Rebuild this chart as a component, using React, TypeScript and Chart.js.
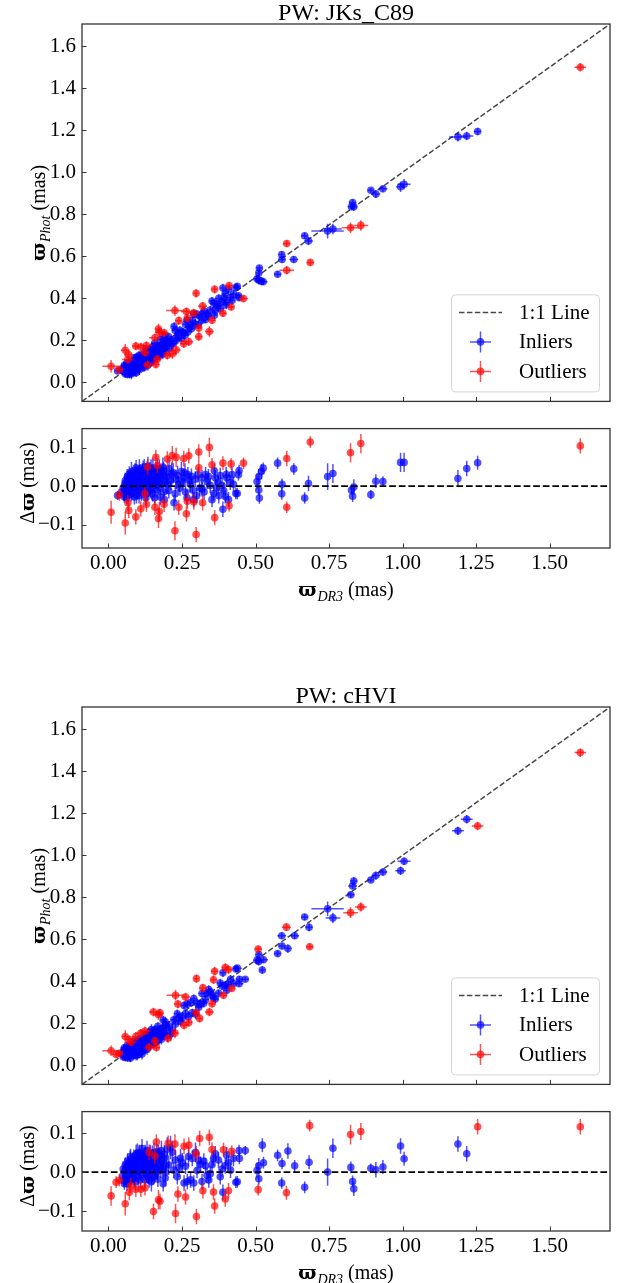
import React, { useEffect, useRef } from "react";
import { Chart, registerables } from "chart.js";

Chart.register(...registerables);

type Row = [number, number, number, number];

// ---------- text ----------
const panelTitles = ["PW: JKs_C89", "PW: cHVI"];
const legendLabels = ["1:1 Line", "Inliers", "Outliers"];

// ---------- ticks / limits ----------
const mainTicks = [0.0, 0.2, 0.4, 0.6, 0.8, 1.0, 1.2, 1.4, 1.6];
const xTicks = [0.0, 0.25, 0.5, 0.75, 1.0, 1.25, 1.5];
const resTicks = [-0.1, 0.0, 0.1];
const mainLimits = [-0.09, 1.705];
const jksResLimits = [-0.161, 0.15];
const chviResLimits = [-0.151, 0.155];

// ---------- data: [parallax DR3, residual (DR3 - Phot), xErr, yErr] ----------
const jksInliers: Row[] = [
  [1.255, 0.061, 0.012, 0.018], [1.218, 0.046, 0.022, 0.02], [1.188, 0.02, 0.03, 0.022],
  [1.005, 0.062, 0.022, 0.025], [0.993, 0.062, 0.015, 0.025], [0.933, 0.012, 0.015, 0.014],
  [0.909, 0.013, 0.015, 0.018], [0.892, -0.022, 0.01, 0.012], [0.834, -0.002, 0.012, 0.02],
  [0.826, -0.01, 0.012, 0.012], [0.83, -0.026, 0.012, 0.015], [0.763, 0.033, 0.03, 0.025],
  [0.745, 0.025, 0.055, 0.035], [0.68, 0.007, 0.015, 0.02], [0.667, -0.031, 0.012, 0.015],
  [0.63, 0.045, 0.015, 0.015], [0.59, 0.005, 0.012, 0.015], [0.589, -0.02, 0.01, 0.015],
  [0.575, 0.06, 0.012, 0.015], [0.526, 0.047, 0.015, 0.015], [0.52, 0.038, 0.012, 0.02],
  [0.511, 0.025, 0.012, 0.02], [0.505, 0.012, 0.012, 0.02], [0.511, -0.01, 0.01, 0.015],
  [0.513, -0.031, 0.012, 0.015],
  [0.444, 0.041, 0.015, 0.015], [0.442, 0.03, 0.012, 0.015], [0.438, -0.019, 0.01, 0.015],
  [0.433, -0.019, 0.01, 0.015], [0.42, 0.03, 0.01, 0.02], [0.414, 0.01, 0.02, 0.02],
  [0.408, -0.035, 0.012, 0.02], [0.402, 0.022, 0.015, 0.02], [0.4, 0.03, 0.012, 0.02],
  [0.397, -0.027, 0.01, 0.018], [0.389, -0.06, 0.01, 0.02], [0.386, 0.002, 0.015, 0.02],
  [0.375, -0.025, 0.012, 0.02], [0.372, 0.01, 0.012, 0.02], [0.363, 0.022, 0.012, 0.02],
  [0.36, 0.04, 0.01, 0.02], [0.358, -0.019, 0.01, 0.02], [0.352, -0.035, 0.01, 0.02],
  [0.346, 0.002, 0.015, 0.02], [0.335, 0.012, 0.01, 0.02], [0.33, 0.03, 0.012, 0.02],
  [0.318, 0.022, 0.01, 0.02], [0.318, -0.007, 0.015, 0.02], [0.31, -0.005, 0.012, 0.02],
  [0.305, 0.03, 0.012, 0.02], [0.29, -0.035, 0.01, 0.02], [0.282, 0.026, 0.015, 0.02],
  [0.279, 0.005, 0.012, 0.02], [0.27, 0.03, 0.01, 0.02], [0.262, -0.015, 0.01, 0.02],
  [0.256, 0.022, 0.015, 0.025], [0.248, 0.038, 0.012, 0.025], [0.239, 0.005, 0.015, 0.02],
  [0.23, 0.018, 0.02, 0.025], [0.223, -0.043, 0.01, 0.02], [0.215, 0.032, 0.015, 0.03],
  [0.206, 0.046, 0.015, 0.03], [0.2, 0.005, 0.012, 0.025],
  [0.205, -0.012, 0.012, 0.02], [0.212, 0.015, 0.01, 0.025], [0.22, 0.035, 0.015, 0.025],
  [0.227, -0.02, 0.012, 0.02], [0.235, 0.028, 0.01, 0.025], [0.243, -0.005, 0.012, 0.02],
  [0.252, 0.012, 0.015, 0.02], [0.26, 0.035, 0.01, 0.025], [0.267, -0.03, 0.012, 0.02],
  [0.275, 0.015, 0.01, 0.02], [0.286, -0.01, 0.012, 0.02], [0.295, 0.018, 0.015, 0.02],
  [0.3, -0.025, 0.01, 0.02], [0.325, -0.015, 0.012, 0.02], [0.34, 0.025, 0.01, 0.02],
  [0.368, -0.005, 0.012, 0.02], [0.38, 0.028, 0.015, 0.02], [0.392, -0.012, 0.01, 0.02],
  [0.425, 0.005, 0.012, 0.02],
  [0.031, -0.024, 0.01, 0.012], [0.045, -0.015, 0.012, 0.015], [0.05, -0.005, 0.01, 0.015],
  [0.052, -0.02, 0.012, 0.018], [0.055, 0.005, 0.01, 0.02], [0.058, -0.01, 0.015, 0.015],
  [0.06, 0.01, 0.01, 0.02], [0.062, -0.03, 0.012, 0.018], [0.065, 0.0, 0.01, 0.02],
  [0.067, 0.018, 0.012, 0.02], [0.07, -0.012, 0.015, 0.02], [0.072, 0.005, 0.01, 0.025],
  [0.075, 0.025, 0.012, 0.02], [0.077, -0.02, 0.01, 0.02], [0.08, 0.012, 0.015, 0.025],
  [0.082, 0.03, 0.01, 0.02], [0.085, -0.005, 0.012, 0.02], [0.087, 0.02, 0.01, 0.025],
  [0.09, 0.04, 0.015, 0.02], [0.092, 0.005, 0.01, 0.02], [0.095, -0.025, 0.012, 0.02],
  [0.097, 0.015, 0.01, 0.025], [0.1, 0.03, 0.015, 0.02], [0.102, -0.01, 0.012, 0.02],
  [0.105, 0.045, 0.01, 0.025], [0.107, 0.008, 0.012, 0.02], [0.11, 0.022, 0.015, 0.025],
  [0.112, -0.018, 0.01, 0.02], [0.115, 0.035, 0.012, 0.025], [0.117, 0.0, 0.01, 0.02],
  [0.12, 0.015, 0.015, 0.025], [0.122, 0.05, 0.012, 0.02], [0.125, 0.028, 0.01, 0.025],
  [0.127, -0.03, 0.012, 0.02], [0.13, 0.01, 0.015, 0.02], [0.132, 0.04, 0.01, 0.025],
  [0.135, 0.02, 0.012, 0.02], [0.137, -0.008, 0.01, 0.02], [0.14, 0.03, 0.015, 0.025],
  [0.142, 0.005, 0.012, 0.02], [0.145, 0.045, 0.01, 0.025], [0.148, 0.015, 0.012, 0.02],
  [0.15, -0.02, 0.015, 0.02], [0.152, 0.025, 0.01, 0.025], [0.155, 0.035, 0.012, 0.02],
  [0.158, 0.002, 0.01, 0.02], [0.16, 0.018, 0.015, 0.025], [0.163, 0.04, 0.012, 0.02],
  [0.165, -0.01, 0.01, 0.02], [0.168, 0.028, 0.012, 0.025], [0.17, 0.01, 0.015, 0.02],
  [0.173, 0.045, 0.01, 0.025], [0.176, -0.028, 0.012, 0.02], [0.18, 0.02, 0.015, 0.025],
  [0.185, 0.05, 0.012, 0.025], [0.188, -0.015, 0.01, 0.02], [0.192, 0.03, 0.012, 0.025],
  [0.195, 0.012, 0.015, 0.02],
  [0.054, -0.028, 0.01, 0.015], [0.057, 0.015, 0.012, 0.02], [0.061, -0.018, 0.01, 0.018],
  [0.064, 0.025, 0.012, 0.02], [0.068, -0.022, 0.01, 0.02], [0.071, 0.032, 0.012, 0.02],
  [0.074, -0.005, 0.015, 0.02], [0.078, 0.038, 0.01, 0.025], [0.081, -0.015, 0.012, 0.02],
  [0.084, 0.008, 0.01, 0.02], [0.088, -0.028, 0.012, 0.02], [0.091, 0.022, 0.015, 0.025],
  [0.094, 0.048, 0.01, 0.02], [0.098, -0.005, 0.012, 0.02], [0.101, 0.012, 0.01, 0.025],
  [0.104, -0.025, 0.015, 0.02], [0.108, 0.038, 0.012, 0.02], [0.111, 0.002, 0.01, 0.025],
  [0.114, 0.018, 0.012, 0.02], [0.118, 0.042, 0.015, 0.025], [0.121, -0.01, 0.01, 0.02],
  [0.124, 0.005, 0.012, 0.02], [0.128, 0.035, 0.01, 0.025], [0.131, -0.018, 0.012, 0.02],
  [0.134, 0.052, 0.015, 0.025], [0.138, 0.012, 0.01, 0.02], [0.141, 0.038, 0.012, 0.025],
  [0.144, -0.012, 0.01, 0.02], [0.147, 0.022, 0.015, 0.02], [0.151, 0.048, 0.012, 0.025],
  [0.154, 0.008, 0.01, 0.02], [0.157, -0.03, 0.012, 0.02], [0.161, 0.03, 0.015, 0.025],
  [0.164, 0.012, 0.01, 0.02], [0.167, 0.042, 0.012, 0.025], [0.171, -0.002, 0.01, 0.02],
  [0.175, 0.025, 0.015, 0.025], [0.178, 0.035, 0.012, 0.02], [0.183, 0.005, 0.01, 0.02],
  [0.187, 0.038, 0.012, 0.025], [0.19, -0.035, 0.01, 0.02], [0.198, 0.025, 0.015, 0.025],
];

const jksOutliers: Row[] = [
  [1.604, 0.105, 0.02, 0.02], [0.858, 0.111, 0.025, 0.025], [0.823, 0.087, 0.03, 0.025],
  [0.686, 0.115, 0.012, 0.015], [0.606, 0.072, 0.025, 0.02], [0.606, -0.055, 0.012, 0.015],
  [0.459, 0.06, 0.015, 0.015], [0.417, 0.058, 0.01, 0.015], [0.41, -0.051, 0.012, 0.015],
  [0.389, 0.06, 0.012, 0.018], [0.361, -0.082, 0.01, 0.02], [0.352, 0.056, 0.012, 0.018],
  [0.343, 0.101, 0.015, 0.025], [0.32, -0.043, 0.015, 0.02], [0.307, 0.089, 0.012, 0.02],
  [0.307, 0.048, 0.01, 0.02], [0.298, -0.126, 0.008, 0.02], [0.29, -0.041, 0.02, 0.02],
  [0.273, 0.079, 0.015, 0.02], [0.268, -0.039, 0.01, 0.02], [0.265, -0.072, 0.02, 0.02],
  [0.256, 0.072, 0.012, 0.02], [0.239, -0.055, 0.012, 0.02], [0.23, 0.075, 0.015, 0.025],
  [0.226, -0.116, 0.03, 0.025], [0.217, 0.08, 0.012, 0.025], [0.2, 0.071, 0.012, 0.02],
  [0.189, -0.047, 0.015, 0.02], [0.173, -0.066, 0.015, 0.025], [0.17, -0.084, 0.012, 0.025],
  [0.166, 0.054, 0.015, 0.02], [0.161, 0.075, 0.012, 0.02], [0.158, -0.055, 0.02, 0.02],
  [0.133, 0.05, 0.015, 0.02], [0.129, -0.047, 0.02, 0.02], [0.124, -0.019, 0.015, 0.02],
  [0.11, -0.059, 0.02, 0.02], [0.093, -0.08, 0.012, 0.02], [0.069, -0.063, 0.015, 0.02],
  [0.066, -0.043, 0.02, 0.02], [0.057, -0.096, 0.015, 0.03], [0.037, -0.023, 0.012, 0.015],
  [0.009, -0.068, 0.03, 0.03],
];

const chviInliers: Row[] = [
  [1.218, 0.047, 0.02, 0.02], [1.188, 0.072, 0.02, 0.02], [1.005, 0.034, 0.022, 0.018],
  [0.993, 0.067, 0.018, 0.02], [0.933, 0.013, 0.015, 0.018], [0.909, 0.006, 0.015, 0.02],
  [0.892, 0.01, 0.01, 0.012], [0.834, -0.043, 0.012, 0.018], [0.83, -0.024, 0.015, 0.015],
  [0.824, 0.012, 0.012, 0.015], [0.763, 0.061, 0.025, 0.025], [0.745, 0.0, 0.055, 0.035],
  [0.682, 0.025, 0.012, 0.018], [0.667, -0.039, 0.012, 0.015], [0.633, 0.016, 0.015, 0.015],
  [0.61, 0.054, 0.012, 0.02], [0.59, 0.022, 0.012, 0.015], [0.589, -0.028, 0.015, 0.015],
  [0.575, 0.043, 0.012, 0.015], [0.527, 0.024, 0.015, 0.015], [0.523, 0.069, 0.01, 0.018],
  [0.511, 0.016, 0.012, 0.02], [0.505, 0.004, 0.012, 0.02], [0.511, -0.017, 0.01, 0.015],
  [0.465, 0.055, 0.012, 0.012], [0.444, 0.055, 0.015, 0.015], [0.445, 0.035, 0.012, 0.015],
  [0.438, -0.025, 0.015, 0.015], [0.433, -0.026, 0.01, 0.015],
  [0.408, 0.024, 0.012, 0.02], [0.402, 0.044, 0.012, 0.02], [0.397, 0.016, 0.015, 0.02],
  [0.389, -0.052, 0.01, 0.02], [0.386, 0.008, 0.012, 0.02], [0.374, 0.031, 0.015, 0.02],
  [0.363, 0.047, 0.012, 0.02], [0.352, 0.019, 0.01, 0.02], [0.346, -0.004, 0.015, 0.02],
  [0.341, -0.02, 0.01, 0.02], [0.33, 0.016, 0.012, 0.02], [0.324, 0.028, 0.01, 0.02],
  [0.318, -0.024, 0.012, 0.02], [0.313, 0.02, 0.015, 0.02], [0.301, 0.004, 0.01, 0.02],
  [0.296, 0.051, 0.012, 0.025], [0.29, -0.028, 0.01, 0.02], [0.285, 0.035, 0.015, 0.02],
  [0.279, -0.02, 0.012, 0.02], [0.268, -0.024, 0.01, 0.02], [0.257, -0.028, 0.012, 0.02],
  [0.251, 0.024, 0.015, 0.025], [0.245, 0.035, 0.012, 0.025], [0.234, -0.012, 0.01, 0.02],
  [0.228, 0.031, 0.015, 0.025], [0.217, 0.051, 0.012, 0.03], [0.211, 0.063, 0.01, 0.03],
  [0.2, 0.059, 0.012, 0.03], [0.194, 0.0, 0.015, 0.02],
  [0.205, 0.018, 0.012, 0.025], [0.222, 0.005, 0.01, 0.02], [0.24, 0.012, 0.015, 0.025],
  [0.262, 0.015, 0.012, 0.02], [0.272, 0.04, 0.01, 0.025], [0.307, 0.03, 0.012, 0.02],
  [0.335, -0.008, 0.015, 0.02], [0.357, 0.035, 0.01, 0.02], [0.38, -0.012, 0.012, 0.02],
  [0.415, 0.005, 0.012, 0.02], [0.425, 0.035, 0.01, 0.02],
  [0.048, -0.01, 0.01, 0.015], [0.052, -0.022, 0.012, 0.015], [0.055, 0.002, 0.01, 0.02],
  [0.058, -0.015, 0.012, 0.018], [0.06, 0.012, 0.01, 0.02], [0.063, -0.03, 0.012, 0.018],
  [0.066, 0.005, 0.015, 0.02], [0.068, 0.02, 0.01, 0.02], [0.071, -0.008, 0.012, 0.02],
  [0.074, 0.03, 0.01, 0.025], [0.076, -0.02, 0.015, 0.02], [0.079, 0.01, 0.01, 0.02],
  [0.081, 0.025, 0.012, 0.025], [0.084, -0.003, 0.01, 0.02], [0.086, 0.038, 0.015, 0.02],
  [0.089, 0.015, 0.01, 0.025], [0.091, -0.025, 0.012, 0.02], [0.094, 0.045, 0.01, 0.025],
  [0.096, 0.005, 0.015, 0.02], [0.099, 0.028, 0.012, 0.02], [0.101, -0.012, 0.01, 0.025],
  [0.104, 0.05, 0.012, 0.02], [0.106, 0.018, 0.015, 0.025], [0.109, 0.035, 0.01, 0.02],
  [0.111, -0.005, 0.012, 0.02], [0.114, 0.06, 0.01, 0.025], [0.116, 0.022, 0.015, 0.02],
  [0.119, 0.008, 0.012, 0.025], [0.121, 0.042, 0.01, 0.02], [0.124, -0.02, 0.012, 0.02],
  [0.126, 0.03, 0.015, 0.025], [0.129, 0.012, 0.01, 0.02], [0.131, 0.055, 0.012, 0.025],
  [0.134, -0.01, 0.01, 0.02], [0.136, 0.025, 0.015, 0.02], [0.139, 0.04, 0.012, 0.025],
  [0.141, 0.002, 0.01, 0.02], [0.144, 0.032, 0.012, 0.02], [0.146, -0.025, 0.015, 0.025],
  [0.149, 0.048, 0.01, 0.02], [0.151, 0.015, 0.012, 0.02], [0.154, 0.028, 0.01, 0.025],
  [0.157, -0.008, 0.015, 0.02], [0.159, 0.038, 0.012, 0.02], [0.162, 0.01, 0.01, 0.025],
  [0.165, 0.052, 0.012, 0.02], [0.168, -0.018, 0.015, 0.02], [0.171, 0.022, 0.01, 0.025],
  [0.174, 0.042, 0.012, 0.02], [0.178, 0.005, 0.015, 0.02], [0.182, 0.03, 0.012, 0.025],
  [0.186, -0.03, 0.01, 0.02], [0.19, 0.045, 0.012, 0.025], [0.196, 0.018, 0.015, 0.02],
  [0.05, 0.008, 0.012, 0.02], [0.054, -0.03, 0.01, 0.015], [0.057, 0.018, 0.012, 0.02],
  [0.062, -0.005, 0.01, 0.02], [0.065, 0.028, 0.012, 0.02], [0.069, -0.02, 0.015, 0.02],
  [0.072, 0.012, 0.01, 0.025], [0.075, 0.04, 0.012, 0.02], [0.078, -0.012, 0.01, 0.02],
  [0.082, 0.005, 0.015, 0.025], [0.085, 0.022, 0.012, 0.02], [0.088, -0.018, 0.01, 0.02],
  [0.092, 0.032, 0.012, 0.025], [0.095, 0.012, 0.015, 0.02], [0.098, 0.048, 0.01, 0.025],
  [0.102, 0.002, 0.012, 0.02], [0.105, 0.03, 0.01, 0.025], [0.108, -0.02, 0.015, 0.02],
  [0.112, 0.045, 0.012, 0.025], [0.115, 0.01, 0.01, 0.02], [0.118, 0.03, 0.012, 0.02],
  [0.122, 0.02, 0.015, 0.025], [0.125, 0.05, 0.01, 0.02], [0.128, -0.005, 0.012, 0.02],
  [0.132, 0.035, 0.01, 0.025], [0.135, 0.008, 0.015, 0.02], [0.138, -0.02, 0.012, 0.02],
  [0.142, 0.045, 0.01, 0.025], [0.145, 0.018, 0.012, 0.02], [0.148, 0.032, 0.015, 0.025],
  [0.152, -0.012, 0.01, 0.02], [0.155, 0.05, 0.012, 0.025], [0.158, 0.022, 0.01, 0.02],
  [0.162, 0.035, 0.015, 0.025], [0.166, 0.0, 0.012, 0.02], [0.17, 0.045, 0.01, 0.025],
  [0.176, 0.015, 0.012, 0.02], [0.18, 0.055, 0.015, 0.025], [0.185, 0.01, 0.01, 0.02],
  [0.188, 0.035, 0.012, 0.025], [0.193, -0.015, 0.01, 0.02],
];

const chviOutliers: Row[] = [
  [1.604, 0.116, 0.02, 0.02], [1.255, 0.116, 0.02, 0.02], [0.858, 0.104, 0.02, 0.022],
  [0.823, 0.096, 0.025, 0.025], [0.684, 0.119, 0.012, 0.015], [0.605, -0.053, 0.015, 0.018],
  [0.509, -0.045, 0.012, 0.015], [0.419, 0.053, 0.012, 0.015], [0.408, -0.048, 0.012, 0.02],
  [0.397, -0.069, 0.012, 0.02], [0.391, 0.057, 0.012, 0.018], [0.361, -0.087, 0.012, 0.02],
  [0.357, -0.051, 0.01, 0.02], [0.352, 0.058, 0.012, 0.018], [0.343, 0.089, 0.015, 0.02],
  [0.321, -0.048, 0.012, 0.02], [0.31, 0.086, 0.012, 0.02], [0.299, -0.114, 0.008, 0.02],
  [0.298, 0.047, 0.012, 0.02], [0.273, 0.069, 0.012, 0.02], [0.262, -0.064, 0.015, 0.02],
  [0.257, 0.066, 0.012, 0.02], [0.236, -0.056, 0.012, 0.02], [0.228, -0.106, 0.03, 0.025],
  [0.226, 0.072, 0.012, 0.025], [0.203, 0.074, 0.012, 0.02], [0.17, -0.071, 0.015, 0.025],
  [0.175, -0.075, 0.012, 0.02], [0.163, 0.077, 0.012, 0.02], [0.158, 0.041, 0.012, 0.02],
  [0.153, -0.101, 0.015, 0.02], [0.138, 0.051, 0.015, 0.02], [0.124, -0.04, 0.02, 0.02],
  [0.11, -0.044, 0.02, 0.02], [0.093, -0.044, 0.012, 0.02], [0.076, -0.035, 0.02, 0.02],
  [0.071, -0.052, 0.015, 0.02], [0.057, -0.081, 0.012, 0.03], [0.037, -0.021, 0.012, 0.015],
  [0.026, -0.026, 0.015, 0.015], [0.009, -0.061, 0.03, 0.025],
];

// ---------- styles ----------
const SERIF = "'Liberation Serif', 'Times New Roman', 'DejaVu Serif', serif";
const BLUE = "rgba(0, 0, 255, 0.68)";
const RED = "rgba(255, 0, 0, 0.68)";
const FRAME = "#333333";
const TICK_SIZE = 21;
const MARKER_R = 3.8;

// ---------- plugins ----------
const errorBarPlugin = {
  id: "errbars",
  beforeDatasetDraw(chart: any, args: any) {
    const ds = chart.data.datasets[args.index];
    if (!ds.errY) return;
    const { ctx, chartArea: a } = chart;
    const xs = chart.scales.x;
    const ys = chart.scales.y;
    ctx.save();
    ctx.beginPath();
    ctx.rect(a.left, a.top, a.right - a.left, a.bottom - a.top);
    ctx.clip();
    ctx.strokeStyle = ds.errColor;
    ctx.lineWidth = 1.5;
    ds.data.forEach((p: any, i: number) => {
      const px = xs.getPixelForValue(p.x);
      const py = ys.getPixelForValue(p.y);
      ctx.beginPath();
      ctx.moveTo(px, ys.getPixelForValue(p.y - ds.errY[i]));
      ctx.lineTo(px, ys.getPixelForValue(p.y + ds.errY[i]));
      if (ds.errX) {
        ctx.moveTo(xs.getPixelForValue(p.x - ds.errX[i]), py);
        ctx.lineTo(xs.getPixelForValue(p.x + ds.errX[i]), py);
      }
      ctx.stroke();
    });
    ctx.restore();
  },
};

const framePlugin = {
  id: "frame",
  afterDatasetsDraw(chart: any, _args: any, opts: any) {
    const { ctx, chartArea: a } = chart;
    const xs = chart.scales.x;
    const ys = chart.scales.y;
    ctx.save();
    ctx.strokeStyle = FRAME;
    ctx.lineWidth = 1;
    ctx.beginPath();
    (opts.xt || []).forEach((v: number) => {
      const px = Math.round(xs.getPixelForValue(v)) + 0.5;
      ctx.moveTo(px, a.bottom);
      ctx.lineTo(px, a.bottom - 4.5);
    });
    (opts.yt || []).forEach((v: number) => {
      const py = Math.round(ys.getPixelForValue(v)) + 0.5;
      ctx.moveTo(a.left, py);
      ctx.lineTo(a.left + 4.5, py);
    });
    ctx.stroke();
    ctx.lineWidth = 1.3;
    ctx.strokeRect(a.left, a.top, a.right - a.left, a.bottom - a.top);
    ctx.restore();
  },
};

const boxLegendPlugin = {
  id: "boxLegend",
  afterDraw(chart: any, _args: any, opts: any) {
    if (!opts.show) return;
    const { ctx, chartArea: a } = chart;
    const w = 148;
    const h = 97;
    const x0 = a.right - 11 - w;
    const y0 = a.bottom - 10 - h;
    ctx.save();
    ctx.beginPath();
    ctx.roundRect(x0 + 0.5, y0 + 0.5, w, h, 4);
    ctx.fillStyle = "rgba(255,255,255,0.8)";
    ctx.fill();
    ctx.strokeStyle = "#d5d5d5";
    ctx.lineWidth = 1;
    ctx.stroke();
    const items = chart.data.datasets.filter((d: any) => d.legendKind);
    items.sort((p: any, q: any) => p.legendIndex - q.legendIndex);
    items.forEach((d: any, i: number) => {
      const cy = y0 + 18 + i * 29.5;
      const cx = x0 + 29.5;
      if (d.legendKind === "line") {
        ctx.strokeStyle = d.borderColor;
        ctx.lineWidth = d.borderWidth;
        ctx.setLineDash(d.borderDash);
        ctx.beginPath();
        ctx.moveTo(x0 + 8, cy);
        ctx.lineTo(x0 + 51, cy);
        ctx.stroke();
        ctx.setLineDash([]);
      } else {
        ctx.strokeStyle = d.errColor;
        ctx.lineWidth = 1.5;
        ctx.beginPath();
        ctx.moveTo(cx - 10.5, cy);
        ctx.lineTo(cx + 10.5, cy);
        ctx.moveTo(cx, cy - 10.5);
        ctx.lineTo(cx, cy + 10.5);
        ctx.stroke();
        ctx.fillStyle = d.errColor;
        ctx.beginPath();
        ctx.arc(cx, cy, MARKER_R, 0, Math.PI * 2);
        ctx.fill();
      }
      ctx.fillStyle = "#000";
      ctx.font = `21px ${SERIF}`;
      ctx.textAlign = "left";
      ctx.textBaseline = "middle";
      ctx.fillText(d.label, x0 + 68, cy + 1);
    });
    ctx.restore();
  },
};

// ---------- builders ----------
function pointSet(rows: Row[], label: string, color: string, residual: boolean, order: number, legendIndex: number) {
  return {
    type: "scatter",
    label,
    order,
    data: rows.map((r) => ({ x: r[0], y: residual ? r[1] : r[0] - r[1] })),
    backgroundColor: color,
    borderWidth: 0,
    pointRadius: MARKER_R,
    pointHoverRadius: MARKER_R,
    pointBorderWidth: 0,
    clip: 0,
    errX: residual ? null : rows.map((r) => r[2]),
    errY: rows.map((r) => r[3]),
    errColor: color,
    legendKind: residual ? undefined : "err",
    legendIndex,
  };
}

const fmtMinus = (s: string) => s.replace("-", "\u2212");

function mainConfig(inl: Row[], outl: Row[]) {
  return {
    type: "scatter",
    data: {
      datasets: [
        {
          type: "line",
          label: legendLabels[0],
          order: 3,
          data: [
            { x: mainLimits[0], y: mainLimits[0] },
            { x: mainLimits[1], y: mainLimits[1] },
          ],
          borderColor: "rgba(0,0,0,0.72)",
          borderWidth: 1.5,
          borderDash: [5.5, 2.4],
          pointRadius: 0,
          fill: false,
          clip: 0,
          legendKind: "line",
          legendIndex: 0,
        },
        pointSet(inl, legendLabels[1], BLUE, false, 2, 1),
        pointSet(outl, legendLabels[2], RED, false, 1, 2),
      ],
    },
    options: {
      animation: false,
      responsive: false,
      events: [],
      layout: { padding: { top: 24, bottom: 13, left: 0, right: 10 } },
      plugins: {
        legend: { display: false },
        tooltip: { enabled: false },
        frame: { xt: xTicks, yt: mainTicks },
        boxLegend: { show: true },
      },
      scales: {
        x: {
          type: "linear",
          min: mainLimits[0],
          max: mainLimits[1],
          grid: { display: false, drawTicks: false },
          border: { display: false },
          ticks: { display: false },
          afterFit: (s: any) => {
            s.height = 0;
          },
        },
        y: {
          type: "linear",
          position: "left",
          min: mainLimits[0],
          max: mainLimits[1],
          grid: { display: false, drawTicks: false, tickLength: 0 },
          border: { display: false },
          afterBuildTicks: (s: any) => {
            s.ticks = mainTicks.map((v) => ({ value: v }));
          },
          ticks: {
            font: { family: SERIF, size: TICK_SIZE },
            color: "#000",
            padding: 6,
            callback: (v: any) => Number(v).toFixed(1),
          },
          afterFit: (s: any) => {
            s.width = 82;
          },
        },
      },
    },
    plugins: [errorBarPlugin, framePlugin, boxLegendPlugin],
  };
}

function resConfig(inl: Row[], outl: Row[], lim: number[], canvasH: number) {
  return {
    type: "scatter",
    data: {
      datasets: [
        {
          type: "line",
          label: "zero",
          order: 0,
          data: [
            { x: mainLimits[0], y: 0 },
            { x: mainLimits[1], y: 0 },
          ],
          borderColor: "#000",
          borderWidth: 1.8,
          borderDash: [6.7, 2.9],
          pointRadius: 0,
          fill: false,
          clip: 0,
        },
        pointSet(inl, legendLabels[1], BLUE, true, 2, 1),
        pointSet(outl, legendLabels[2], RED, true, 1, 2),
      ],
    },
    options: {
      animation: false,
      responsive: false,
      events: [],
      layout: { padding: { top: 11, bottom: 0, left: 0, right: 10 } },
      plugins: {
        legend: { display: false },
        tooltip: { enabled: false },
        frame: { xt: xTicks, yt: resTicks },
        boxLegend: { show: false },
      },
      scales: {
        x: {
          type: "linear",
          min: mainLimits[0],
          max: mainLimits[1],
          grid: { display: false, drawTicks: false, tickLength: 0 },
          border: { display: false },
          afterBuildTicks: (s: any) => {
            s.ticks = xTicks.map((v) => ({ value: v }));
          },
          ticks: {
            font: { family: SERIF, size: TICK_SIZE },
            color: "#000",
            padding: 3,
            autoSkip: false,
            maxRotation: 0,
            callback: (v: any) => Number(v).toFixed(2),
          },
          afterFit: (s: any) => {
            s.height = canvasH - 138;
          },
        },
        y: {
          type: "linear",
          position: "left",
          min: lim[0],
          max: lim[1],
          grid: { display: false, drawTicks: false, tickLength: 0 },
          border: { display: false },
          afterBuildTicks: (s: any) => {
            s.ticks = resTicks.map((v) => ({ value: v }));
          },
          ticks: {
            font: { family: SERIF, size: TICK_SIZE },
            color: "#000",
            padding: 6,
            callback: (v: any) => fmtMinus(Number(v).toFixed(1)),
          },
          afterFit: (s: any) => {
            s.width = 82;
          },
        },
      },
    },
    plugins: [errorBarPlugin, framePlugin],
  };
}

// ---------- components ----------
function ChartCanvas({ top, height, make }: { top: number; height: number; make: () => any }) {
  const ref = useRef<HTMLCanvasElement | null>(null);
  useEffect(() => {
    if (!ref.current) return;
    const chart = new Chart(ref.current, make());
    return () => chart.destroy();
  }, []);
  return (
    <canvas
      ref={ref}
      width={620}
      height={height}
      style={{ position: "absolute", left: 0, top, width: 620, height, display: "block" }}
    />
  );
}

const labelBase: React.CSSProperties = {
  position: "absolute",
  fontFamily: SERIF,
  color: "#000",
  whiteSpace: "nowrap",
  lineHeight: 1,
};

function Varpi() {
  return <span style={{ fontFamily: "'DejaVu Serif', serif", fontSize: 19, fontWeight: "bold" }}>ϖ</span>;
}

function Sub({ text }: { text: string }) {
  return (
    <span style={{ fontStyle: "italic", fontSize: 14, position: "relative", top: 5, marginLeft: 1, marginRight: 5 }}>
      {text}
    </span>
  );
}

function PanelText({ offset, title }: { offset: number; title: string }) {
  return (
    <>
      <div style={{ ...labelBase, left: 346, top: 12 + offset, fontSize: 24, transform: "translate(-50%, -50%)" }}>
        {title}
      </div>
      <div
        style={{
          ...labelBase,
          left: 38,
          top: 213 + offset,
          fontSize: 20,
          transform: "translate(-50%, -50%) rotate(-90deg)",
        }}
      >
        <Varpi />
        <Sub text="Phot" />
        (mas)
      </div>
      <div
        style={{
          ...labelBase,
          left: 27,
          top: 483 + offset,
          fontSize: 20,
          transform: "translate(-50%, -50%) rotate(-90deg)",
        }}
      >
        Δ<Varpi /> (mas)
      </div>
      <div style={{ ...labelBase, left: 346, top: 589 + offset, fontSize: 20, transform: "translate(-50%, -50%)" }}>
        <Varpi />
        <Sub text="DR3" />
        (mas)
      </div>
    </>
  );
}

export default function App() {
  return (
    <div style={{ position: "absolute", left: 0, top: 0, width: 620, height: 1283, background: "#fff", overflow: "hidden" }}>
      <ChartCanvas top={0} height={420} make={() => mainConfig(jksInliers, jksOutliers)} />
      <ChartCanvas top={410} height={200} make={() => resConfig(jksInliers, jksOutliers, jksResLimits, 200)} />
      <ChartCanvas top={683} height={420} make={() => mainConfig(chviInliers, chviOutliers)} />
      <ChartCanvas top={1093} height={190} make={() => resConfig(chviInliers, chviOutliers, chviResLimits, 190)} />
      <PanelText offset={0} title={panelTitles[0]} />
      <PanelText offset={683} title={panelTitles[1]} />
    </div>
  );
}
